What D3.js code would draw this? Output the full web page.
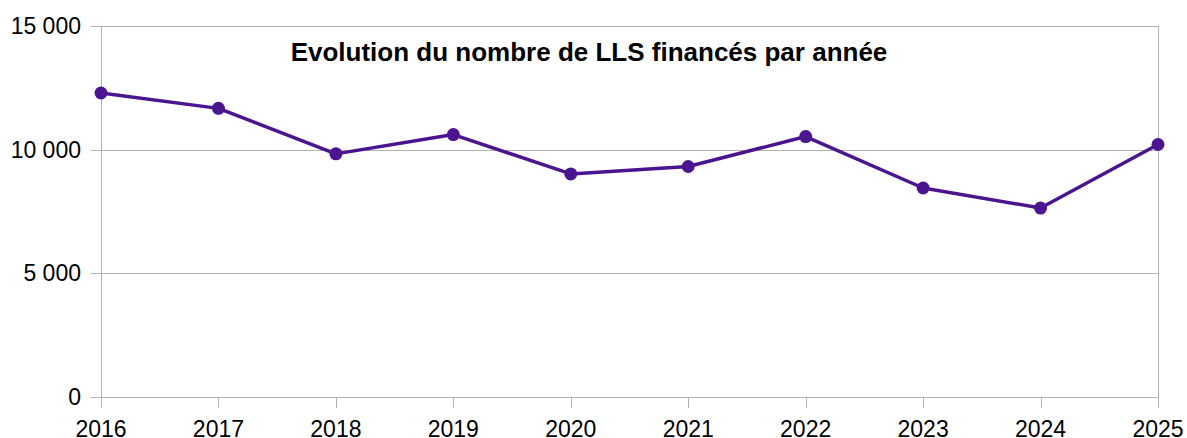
<html>
<head>
<style>
    body { margin: 0; background: #fff; }
    text { font-family: "Liberation Sans", Arial, sans-serif; }
</style>
</head>
<body>
<svg id="chart" width="1187" height="438"></svg>
<script src="https://d3js.org/d3.v7.min.js"></script>
<script>
    let years = [2016, 2017, 2018, 2019, 2020, 2021, 2022, 2023, 2024, 2025]
    let llsValues = [12290, 11670, 9830, 10610, 9020, 9320, 10530, 8450, 7640, 10210]
    let yTicks = [0, 5000, 10000, 15000]
    let title = "Evolution du nombre de LLS financés par année"

    let svg = d3.select("#chart")
    let plotLeft = 101, plotRight = 1158, plotTop = 26, plotBottom = 397

    let x = d3.scalePoint().domain(years).range([plotLeft, plotRight])
    let y = d3.scaleLinear().domain([0, 15000]).range([plotBottom, plotTop])
    let fmt = v => d3.format(",")(v).replace(/,/g, " ")

    // grid
    svg.append("g").selectAll("line").data(yTicks)
        .enter().append("line")
        .attr("x1", plotLeft - 10).attr("x2", plotRight)
        .attr("y1", d => Math.round(y(d)) + 0.5).attr("y2", d => Math.round(y(d)) + 0.5)
        .attr("stroke", "#b3b3b3").attr("stroke-width", 1)

    svg.append("g").selectAll("line").data(years)
        .enter().append("line")
        .attr("x1", d => Math.round(x(d)) + 0.5).attr("x2", d => Math.round(x(d)) + 0.5)
        .attr("y1", d => (d === years[0] || d === years[years.length - 1]) ? plotTop : plotBottom)
        .attr("y2", plotBottom + 11)
        .attr("stroke", "#b3b3b3").attr("stroke-width", 1)

    // labels
    svg.append("g").selectAll("text").data(yTicks)
        .enter().append("text")
        .attr("x", 81).attr("y", d => y(d) + 8)
        .attr("text-anchor", "end").attr("font-size", 23).attr("fill", "#000")
        .text(fmt)

    svg.append("g").selectAll("text").data(years)
        .enter().append("text")
        .attr("x", d => x(d)).attr("y", 437)
        .attr("text-anchor", "middle").attr("font-size", 23).attr("fill", "#000")
        .text(d => d)

    // series
    let data = years.map((yr, i) => ({ year: yr, value: llsValues[i] }))
    let line = d3.line().x(d => x(d.year)).y(d => y(d.value))

    svg.append("path").datum(data)
        .attr("d", line)
        .attr("fill", "none").attr("stroke", "#4b1590").attr("stroke-width", 3.5)
        .attr("stroke-linejoin", "round")

    svg.append("g").selectAll("circle").data(data)
        .enter().append("circle")
        .attr("cx", d => x(d.year)).attr("cy", d => y(d.value))
        .attr("r", 6.5).attr("fill", "#4b1590")

    svg.append("text")
        .attr("x", 589).attr("y", 61)
        .attr("text-anchor", "middle").attr("font-size", 26).attr("font-weight", "bold")
        .attr("fill", "#000")
        .text(title)
</script>
</body>
</html>
